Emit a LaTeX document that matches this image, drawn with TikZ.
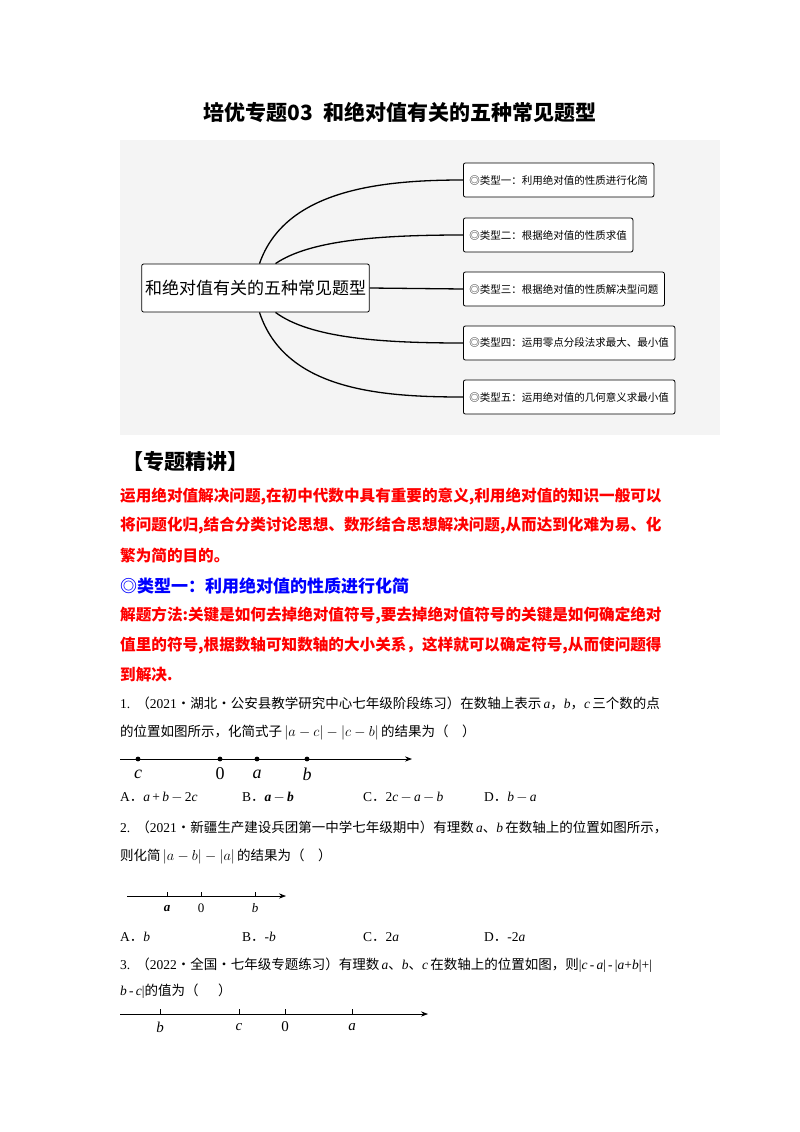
\documentclass[tikz,border=0pt]{standalone}
\usepackage{fontspec}
\setmainfont{Liberation Serif}
\newfontfamily\cjk{Noto Sans CJK SC}
\newcommand\mv[1]{{\rmfamily\itshape #1}}
\newcommand\mr[1]{{\rmfamily #1}}
\usetikzlibrary{arrows.meta}
\begin{document}
\begin{tikzpicture}[x=1pt,y=-1pt,
  txt/.style={anchor=west,inner sep=0pt,font=\cjk\fontsize{13.5}{14}\selectfont},
  red/.style={txt,text=red,font=\cjk\bfseries\fontsize{15.6}{16}\selectfont},
  typebox/.style={draw,rounded corners=2pt,line width=0.8pt,fill=white,minimum height=34pt,anchor=west,font=\cjk\fontsize{10.5}{11}\selectfont,inner xsep=6pt},
  br/.style={line width=1.3pt},
  axis/.style={-{Stealth[length=7pt]},line width=0.8pt},
  lab/.style={inner sep=0pt,font=\itshape\fontsize{18}{18}\selectfont}]
\useasboundingbox (0,0) rectangle (800,1132);
\node[font=\cjk\bfseries\fontsize{21}{22}\selectfont] (title) at (400,113) {培优专题03\ \ 和绝对值有关的五种常见题型};
\fill[gray!9] (120,140) rectangle (720,435);
\node[draw,rounded corners=2pt,line width=0.8pt,fill=white,minimum width=225pt,minimum height=48pt,font=\cjk\fontsize{17}{18}\selectfont] (c) at (255.5,288) {和绝对值有关的五种常见题型};
\node[typebox,minimum width=140pt] (t1) at (463,180) {◎类型一：利用绝对值的性质进行化简};
\node[typebox,minimum width=120pt] (t2) at (463,235) {◎类型二：根据绝对值的性质求值};
\node[typebox,minimum width=150pt] (t3) at (463,289) {◎类型三：根据绝对值的性质解决型问题};
\node[typebox,minimum width=160pt] (t4) at (463,343) {◎类型四：运用零点分段法求最大、最小值};
\node[typebox,minimum width=160pt] (t5) at (463,397) {◎类型五：运用绝对值的几何意义求最小值};
\draw[br] ([xshift=4pt]c.north) .. controls (285,190) and (380,180) .. (t1.west);
\draw[br] ([xshift=20pt]c.north) .. controls (310,240) and (380,235) .. (t2.west);
\draw[br] (c.east) -- (t3.west);
\draw[br] ([xshift=20pt]c.south) .. controls (310,338) and (380,343) .. (t4.west);
\draw[br] ([xshift=4pt]c.south) .. controls (285,390) and (380,397) .. (t5.west);
\node[anchor=west,inner sep=0pt,font=\cjk\bfseries\fontsize{21}{22}\selectfont] (h) at (122,462) {【专题精讲】};
\node[red] (r1) at (120,496) {运用绝对值解决问题,在初中代数中具有重要的意义,利用绝对值的知识一般可以};
\node[red] (r2) at (120,526) {将问题化归,结合分类讨论思想、数形结合思想解决问题,从而达到化难为易、化};
\node[red] (r3) at (120,556) {繁为简的目的。};
\node[txt,text=blue,font=\cjk\bfseries\fontsize{17}{18}\selectfont] (b1) at (120,586) {◎类型一：利用绝对值的性质进行化简};
\node[red] (m1) at (120,615) {解题方法:关键是如何去掉绝对值符号,要去掉绝对值符号的关键是如何确定绝对};
\node[red] (m2) at (120,645) {值里的符号,根据数轴可知数轴的大小关系，这样就可以确定符号,从而使问题得};
\node[red] (m3) at (120,675) {到解决.};
\node[txt] (q1a) at (120,703) {\mr{1.}\ \ （\mr{2021}·湖北·公安县教学研究中心七年级阶段练习）在数轴上表示\,\mv{a}，\mv{b}，\mv{c}\,三个数的点};
\node[txt] (q1b) at (120,733) {的位置如图所示，化简式子\,$\left|a-c\right|-\left|c-b\right|$\,的结果为（\quad）};
\coordinate (n1s) at (120,759); \coordinate (n1e) at (412,759);
\draw[axis] (n1s) -- (n1e);
\foreach \x/\l in {138/c,220/\upshape 0,257/a,307/b}{\fill (\x,759) circle (2.4pt); \node[lab] at (\x,774) {\l};}
\node[txt] (o1a) at (120,797) {\mr{A}．\mv{a}\,\mr{+}\,\mv{b}\,$-$\,\mr{2}\mv{c}};
\node[txt] (o1b) at (242,797) {\mr{B}．{\rmfamily\bfseries\itshape a}\,$-$\,{\rmfamily\bfseries\itshape b}};
\node[txt] (o1c) at (363,797) {\mr{C}．\mr{2}\mv{c}\,$-$\,\mv{a}\,$-$\,\mv{b}};
\node[txt] (o1d) at (484,797) {\mr{D}．\mv{b}\,$-$\,\mv{a}};
\node[txt] (q2a) at (120,827) {\mr{2.}\ \ （\mr{2021}·新疆生产建设兵团第一中学七年级期中）有理数\,\mv{a}、\mv{b}\,在数轴上的位置如图所示，};
\node[txt] (q2b) at (120,857) {则化简\,$|a-b|-|a|$\,的结果为（\quad）};
\coordinate (n2s) at (127,896); \coordinate (n2e) at (286,896);
\draw[axis,line width=0.7pt] (n2s) -- (n2e);
\foreach \x/\l in {167/\bfseries a,201/\upshape 0,255/b}{\draw (\x,896) -- (\x,892); \node[lab,font=\itshape\fontsize{13}{13}\selectfont] at (\x,908) {\l};}
\node[txt] (o2a) at (120,937) {\mr{A}．\mv{b}};
\node[txt] (o2b) at (242,937) {\mr{B}．\mr{-}\mv{b}};
\node[txt] (o2c) at (363,937) {\mr{C}．\mr{2}\mv{a}};
\node[txt] (o2d) at (484,937) {\mr{D}．\mr{-2}\mv{a}};
\node[txt] (q3a) at (120,965) {\mr{3.}\ \ （\mr{2022}·全国·七年级专题练习）有理数\,\mv{a}、\mv{b}、\mv{c}\,在数轴上的位置如图，则\mr{|}\mv{c}\,\mr{-}\,\mv{a}\mr{|}\,\mr{-}\,\mr{|}\mv{a}\mr{+}\mv{b}\mr{|+|}};
\node[txt] (q3b) at (120,991) {\mv{b}\,\mr{-}\,\mv{c}\mr{|}的值为（\quad\ \ ）};
\coordinate (n3s) at (120,1014); \coordinate (n3e) at (428,1014);
\draw[axis,line width=0.7pt] (n3s) -- (n3e);
\foreach \x/\l in {160/b,239/c,285/\upshape 0,352/a}{\draw (\x,1014) -- (\x,1009); \node[lab,font=\itshape\fontsize{15}{15}\selectfont] at (\x,1027) {\l};}
\end{tikzpicture}
\end{document}
